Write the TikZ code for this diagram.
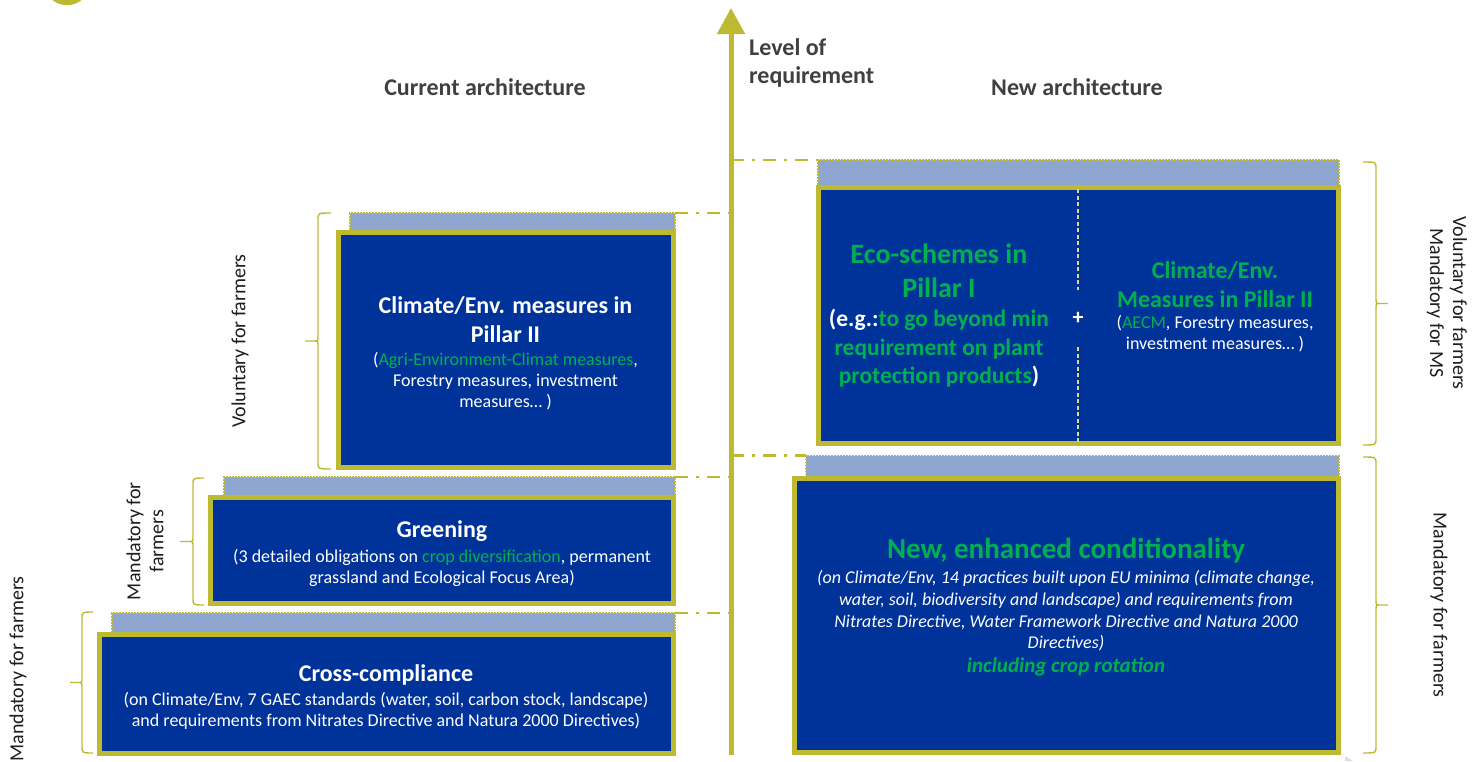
\documentclass[tikz,border=0pt]{standalone}
\usepackage{fontspec}
\setmainfont{Carlito}
\usetikzlibrary{arrows.meta}
\definecolor{capolive}{RGB}{189,186,50}
\definecolor{capblue}{RGB}{0,51,153}
\definecolor{capstrip}{RGB}{142,166,208}
\definecolor{capgreen}{RGB}{0,176,80}
\definecolor{lblgray}{RGB}{30,30,30}
\definecolor{hdgray}{RGB}{64,64,64}
\newcommand\capbraceL[5]{% xv, ytop, ybot, xtip, xend
  \draw[brc] (#5,#2) .. controls (#1,#2) .. (#1,#2+7)
    -- ({#1},{(#2+#3)/2-5}) .. controls ({#1},{(#2+#3)/2}) .. ({#1-4},{(#2+#3)/2}) -- ({#4},{(#2+#3)/2})
    ({#1-4},{(#2+#3)/2}) .. controls ({#1},{(#2+#3)/2}) .. ({#1},{(#2+#3)/2+5})
    -- (#1,#3-7) .. controls (#1,#3) .. (#5,#3);}
\newcommand\capbraceR[5]{% xv, ytop, ybot, xtip, xend
  \draw[brc] (#5,#2) .. controls (#1,#2) .. (#1,#2+7)
    -- ({#1},{(#2+#3)/2-5}) .. controls ({#1},{(#2+#3)/2}) .. ({#1+4},{(#2+#3)/2}) -- ({#4},{(#2+#3)/2})
    ({#1+4},{(#2+#3)/2}) .. controls ({#1},{(#2+#3)/2}) .. ({#1},{(#2+#3)/2+5})
    -- (#1,#3-7) .. controls (#1,#3) .. (#5,#3);}
\tikzset{
  box/.style={draw=capolive, line width=5pt, fill=capblue, inner sep=0pt, outer sep=0pt},
  strip/.style={draw=capolive, line width=1.4pt, dash pattern=on 1.6pt off 1.4pt, fill=capstrip, inner sep=0pt, outer sep=0pt},
  guide/.style={capolive, line width=2.6pt, dash pattern=on 13pt off 8pt on 3pt off 8pt},
  brc/.style={capolive, line width=1.4pt},
  lbl/.style={text=lblgray, font=\fontsize{20}{23}\selectfont, align=center, inner sep=0pt},
  hd/.style={text=hdgray, font=\fontsize{24}{28}\selectfont\bfseries, anchor=base, inner sep=0pt},
  big/.style={text=white, font=\fontsize{24}{29}\selectfont\bfseries, anchor=base, inner sep=0pt},
  sm/.style={text=white, font=\fontsize{18}{21}\selectfont, anchor=base, inner sep=0pt},
  smi/.style={text=white, font=\fontsize{18}{21}\selectfont\itshape, anchor=base, inner sep=0pt},
  divider/.style={capolive!55!white, line width=1.3pt, dash pattern=on 4pt off 2.5pt},
}
\begin{document}
\begin{tikzpicture}[x=1pt,y=-1pt]
\useasboundingbox (0,0) rectangle (1472,761);
% top-left disc
\fill[capolive] (67,-18) circle (23.2);

% axis
\coordinate (axb) at (731,755);
\coordinate (axt) at (731,8);
\draw[capolive, line width=5pt, -{Triangle[width=27pt,length=26pt]}] (axb) -- (axt);
\node[hd, anchor=base west, align=left] (lvl1) at (749,55) {Level of};
\node[hd, anchor=base west] (lvl2) at (749,83) {requirement};

\node[hd] (hcur) at (485,95) {Current architecture};
\node[hd] (hnew) at (1077,95) {New architecture};

% ---------- left column ----------
\node[strip, minimum width=325, minimum height=19] (s1) at (512.5,222.5) {};
\node[box, minimum width=335, minimum height=235] (b1) at (506,350) {};
\node[strip, minimum width=451, minimum height=20] (s2) at (449.5,487) {};
\node[box, minimum width=463, minimum height=106] (b2) at (442,550.5) {};
\node[strip, minimum width=563, minimum height=20] (s3) at (393.5,623) {};
\node[box, minimum width=574, minimum height=119] (b3) at (386.5,694) {};

% ---------- right column ----------
\node[strip, minimum width=521, minimum height=27] (s4) at (1078.5,173.5) {};
\node[box, minimum width=520, minimum height=256] (b4) at (1078.5,315.5) {};
\node[strip, minimum width=533, minimum height=23] (s5) at (1072.5,467) {};
\node[box, minimum width=544, minimum height=274] (b5) at (1066.5,615.5) {};

% guide lines to the axis
\draw[guide] (s1.north east) -- (s1.north east -| axb);
\draw[guide] (s2.north east) -- (s2.north east -| axb);
\draw[guide] (s3.north east) -- (s3.north east -| axb);
\draw[guide] (s4.north west -| axb) -- (s4.north west);
\draw[guide] (s5.north west -| axb) -- (s5.north west);

% divider inside b4
\coordinate (dv1) at (1078,189);
\coordinate (dv2) at (1078,290);
\coordinate (dv3) at (1078,347);
\coordinate (dv4) at (1078,442);
\draw[divider] (dv1) -- (dv2);
\draw[divider] (dv3) -- (dv4);
\node[text=white, font=\fontsize{22}{24}\selectfont\bfseries, inner sep=0pt] (plus) at (1078,318) {+};

% ---------- texts, left ----------
\node[big] (t1a) at (505.5,313) {Climate/Env. measures in};
\node[big] (t1b) at (505.5,342) {Pillar II};
\node[sm] (t1c) at (505.5,365) {(\textcolor{capgreen}{Agri-Environment-Climat measures},};
\node[sm] (t1d) at (505.5,386) {Forestry measures, investment};
\node[sm] (t1e) at (505.5,407) {measures… )};

\node[big] (t2a) at (442,537) {Greening};
\node[sm] (t2b) at (442,562) {(3 detailed obligations on \textcolor{capgreen}{crop diversification}, permanent};
\node[sm] (t2c) at (442,583) {grassland and Ecological Focus Area)};

\node[big] (t3a) at (386,681) {Cross-compliance};
\node[sm] (t3b) at (386,705) {(on Climate/Env, 7 GAEC standards (water, soil, carbon stock, landscape)};
\node[sm] (t3c) at (386,726) {and requirements from Nitrates Directive and Natura 2000 Directives)};

% ---------- texts, right ----------
\node[big, text=capgreen, font=\fontsize{28}{34}\selectfont\bfseries] (t4a) at (939,263) {Eco-schemes in};
\node[big, text=capgreen, font=\fontsize{28}{34}\selectfont\bfseries] (t4b) at (939,297) {Pillar I};
\node[big, font=\fontsize{23.5}{29}\selectfont\bfseries] (t4c) at (939,326) {(e.g.:\textcolor{capgreen}{to go beyond min}};
\node[big, text=capgreen, font=\fontsize{23.5}{29}\selectfont\bfseries] (t4d) at (939,355) {requirement on plant};
\node[big, font=\fontsize{23.5}{29}\selectfont\bfseries] (t4e) at (939,383) {\textcolor{capgreen}{protection products})};

\node[big, text=capgreen] (t5a) at (1215,278) {Climate/Env.};
\node[big, text=capgreen] (t5b) at (1215,307) {Measures in Pillar II};
\node[sm] (t5c) at (1215,328) {(\textcolor{capgreen}{AECM}, Forestry measures,};
\node[sm] (t5d) at (1215,349) {investment measures… )};

\node[big, text=capgreen, font=\fontsize{29}{34}\selectfont\bfseries] (t6a) at (1066,558) {New, enhanced conditionality};
\node[smi] (t6b) at (1066,583) {(on Climate/Env, 14 practices built upon EU minima (climate change,};
\node[smi] (t6c) at (1066,605) {water, soil, biodiversity and landscape) and requirements from};
\node[smi] (t6d) at (1066,627) {Nitrates Directive, Water Framework Directive and Natura 2000};
\node[smi] (t6e) at (1066,648) {Directives)};
\node[big, text=capgreen, font=\fontsize{21}{25}\selectfont\bfseries\itshape] (t6f) at (1066,672) {including crop rotation};

% ---------- braces and side labels ----------
\capbraceL{318}{213}{469}{305}{331}
\capbraceL{193}{478}{605}{180}{204}
\capbraceL{82}{612}{753}{70}{93}
\capbraceR{1376}{162}{445}{1388}{1363}
\capbraceR{1376}{457}{753}{1388}{1363}

\node[lbl, rotate=90] (l1) at (240,341) {Voluntary for farmers};
\node[lbl, rotate=90] (l2) at (145,541) {Mandatory for\\farmers};
\node[lbl, rotate=90] (l3) at (18,669) {Mandatory for farmers};
\node[lbl, rotate=-90] (r1) at (1447,303) {Voluntary for farmers\\Mandatory for MS};
\node[lbl, rotate=-90] (r2) at (1439,605) {Mandatory for farmers};

% faint corner mark
\fill[gray!25] (1345,756) -- (1353,761) -- (1345,761) -- cycle;
\end{tikzpicture}
\end{document}
